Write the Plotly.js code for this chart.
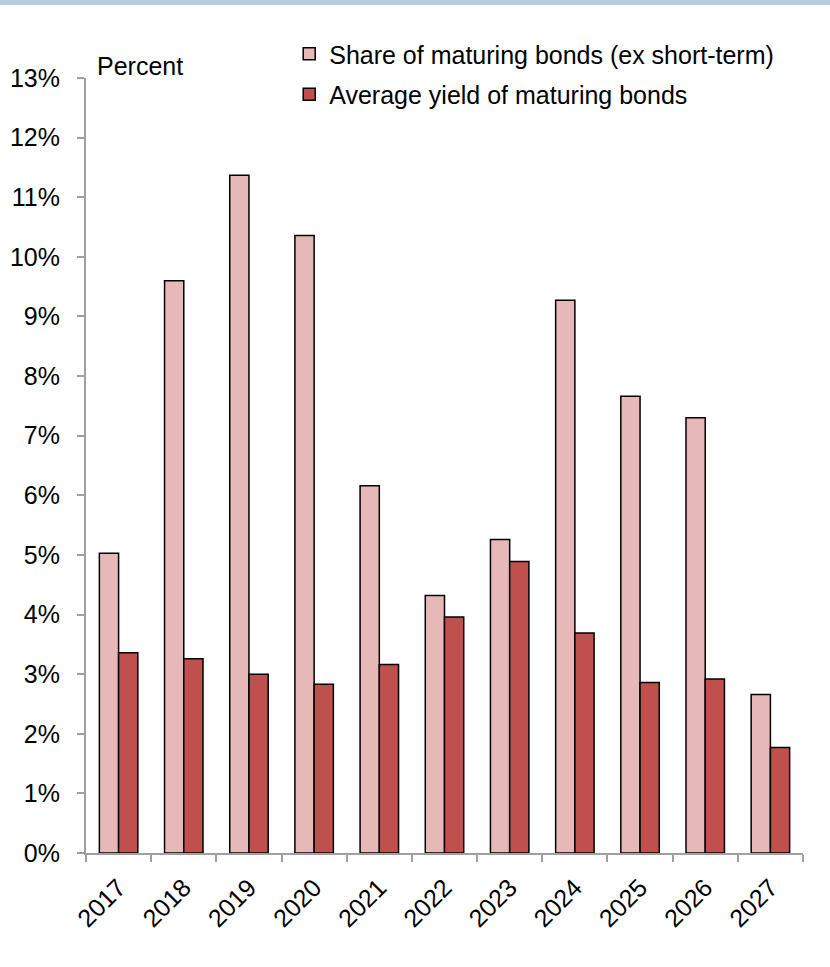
<!DOCTYPE html>
<html>
<head>
<meta charset="utf-8">
<script src="https://cdn.plot.ly/plotly-3.0.1.min.js"></script>
<style>
  html, body { margin: 0; padding: 0; background: #ffffff; }
  #wrap { position: relative; width: 830px; height: 967px; }
  #band { position: absolute; left: 0; top: 0; width: 830px; height: 5px; background: #b9cde5; z-index: 5; }
  #chart { position: absolute; left: 0; top: 0; width: 830px; height: 967px; }
</style>
</head>
<body>
<div id="wrap">
  <div id="chart"></div>
  <div id="band"></div>
</div>
<script>
// Data
const years = ["2017", "2018", "2019", "2020", "2021", "2022", "2023", "2024", "2025", "2026", "2027"];
const shareMaturing = [5.03, 9.60, 11.37, 10.36, 6.16, 4.32, 5.26, 9.27, 7.66, 7.30, 2.66];
const avgYield = [3.36, 3.26, 3.00, 2.83, 3.16, 3.96, 4.89, 3.69, 2.86, 2.92, 1.77];
const yTickVals = [0, 1, 2, 3, 4, 5, 6, 7, 8, 9, 10, 11, 12, 13];
const seriesNames = ["Share of maturing bonds (ex short-term)", "Average yield of maturing bonds"];

const FONT = "Liberation Sans, Arial, sans-serif";
const FS = 25;

const traces = [
  {
    type: "bar",
    name: seriesNames[0],
    x: years,
    y: shareMaturing,
    legendgroup: "a",
    marker: { color: "#e6b9b8", line: { color: "#000000", width: 1.5 } },
    hoverinfo: "skip"
  },
  {
    type: "bar",
    name: seriesNames[1],
    x: years,
    y: avgYield,
    legendgroup: "b",
    marker: { color: "#c0504d", line: { color: "#000000", width: 1.5 } },
    hoverinfo: "skip"
  }
];

const layout = {
  width: 830,
  height: 967,
  margin: { l: 85.5, r: 26.5, t: 78, b: 113.5, pad: 0 },
  paper_bgcolor: "#ffffff",
  plot_bgcolor: "#ffffff",
  font: { family: FONT, size: FS, color: "#000000" },
  barmode: "group",
  bargap: 0.41,
  bargroupgap: 0,
  showlegend: true,
  legend: {
    x: (289 - 85.5) / 718,
    y: 1 + (78 - 31) / 775.5,
    xanchor: "left",
    yanchor: "top",
    bgcolor: "rgba(0,0,0,0)",
    borderwidth: 0,
    traceorder: "grouped",
    tracegroupgap: 5,
    font: { family: FONT, size: FS, color: "#000000" }
  },
  xaxis: {
    type: "category",
    showline: true,
    linecolor: "#a0a0a0",
    linewidth: 2,
    ticks: "outside",
    tickson: "boundaries",
    ticklen: 7,
    tickwidth: 2,
    tickcolor: "#a0a0a0",
    tickangle: -45,
    ticklabelstandoff: 8,
    showgrid: false,
    zeroline: false,
    tickfont: { family: FONT, size: FS, color: "#000000" },
    fixedrange: true
  },
  yaxis: {
    range: [0, 13],
    tickmode: "array",
    tickvals: yTickVals,
    ticktext: yTickVals.map(v => v + "%"),
    showline: true,
    linecolor: "#a0a0a0",
    linewidth: 2,
    ticks: "outside",
    ticklen: 7,
    tickwidth: 2,
    tickcolor: "#a0a0a0",
    showgrid: false,
    zeroline: false,
    ticklabelstandoff: 12,
    tickfont: { family: FONT, size: FS, color: "#000000" },
    fixedrange: true
  },
  annotations: [
    {
      text: "Percent",
      xref: "paper",
      yref: "paper",
      x: (95 - 85.5) / 718,
      y: 1 + (78 - 66) / 775.5,
      xanchor: "left",
      yanchor: "middle",
      showarrow: false,
      font: { family: FONT, size: FS, color: "#000000" }
    }
  ]
};

Plotly.newPlot("chart", traces, layout, { displayModeBar: false, staticPlot: true });
</script>
</body>
</html>
